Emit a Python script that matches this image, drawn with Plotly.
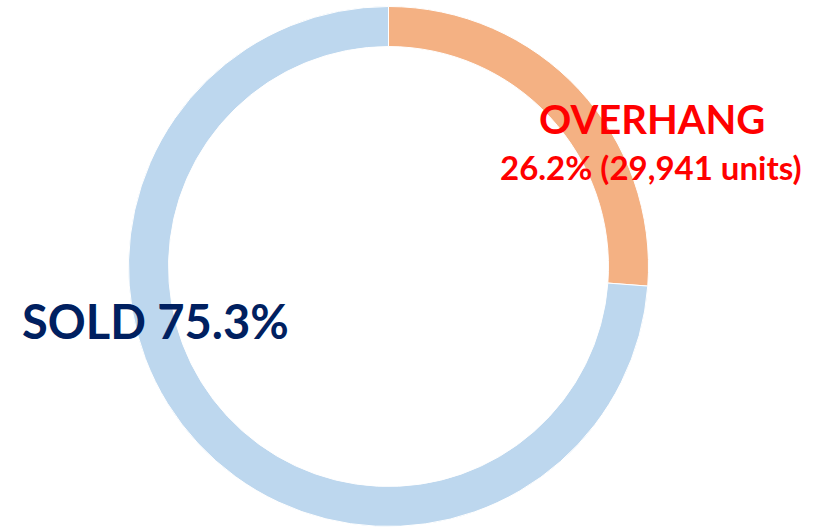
import plotly.graph_objects as go

labels = ["OVERHANG", "SOLD"]
values = [26.2, 73.8]
colors = ["#F4B183", "#BDD7EE"]

W, H = 840, 527
cx, cy, r = 388.5, 266.5, 260

fig = go.Figure(go.Pie(
    labels=labels,
    values=values,
    hole=0.846,
    sort=False,
    direction="clockwise",
    rotation=0,
    marker=dict(colors=colors, line=dict(color="white", width=1)),
    textinfo="none",
    hoverinfo="label+value",
    showlegend=False,
    domain=dict(x=[max(0, (cx - r) / W), min(1, (cx + r) / W)],
                y=[max(0, (H - cy - r) / H), min(1, (H - cy + r) / H)]),
))

font_family = "Lato, 'Open Sans', sans-serif"
fig.add_annotation(x=652 / W, y=1 - 119 / H, xref="paper", yref="paper",
                   text="<b>OVERHANG</b>", showarrow=False,
                   font=dict(family=font_family, size=40, color="#FF0000"),
                   xanchor="center", yanchor="middle")
fig.add_annotation(x=651 / W, y=1 - 167 / H, xref="paper", yref="paper",
                   text="<b>26.2% (29,941 units)</b>", showarrow=False,
                   font=dict(family=font_family, size=33, color="#FF0000"),
                   xanchor="center", yanchor="middle")
fig.add_annotation(x=155 / W, y=1 - 321 / H, xref="paper", yref="paper",
                   text="<b>SOLD 75.3%</b>", showarrow=False,
                   font=dict(family=font_family, size=47, color="#002060"),
                   xanchor="center", yanchor="middle")

fig.update_layout(width=W, height=H, margin=dict(l=0, r=0, t=0, b=0),
                  paper_bgcolor="white", plot_bgcolor="white")
fig.write_html("out.html", config={"displayModeBar": False},
               post_script="document.body.style.margin='0';document.body.style.padding='0';")
